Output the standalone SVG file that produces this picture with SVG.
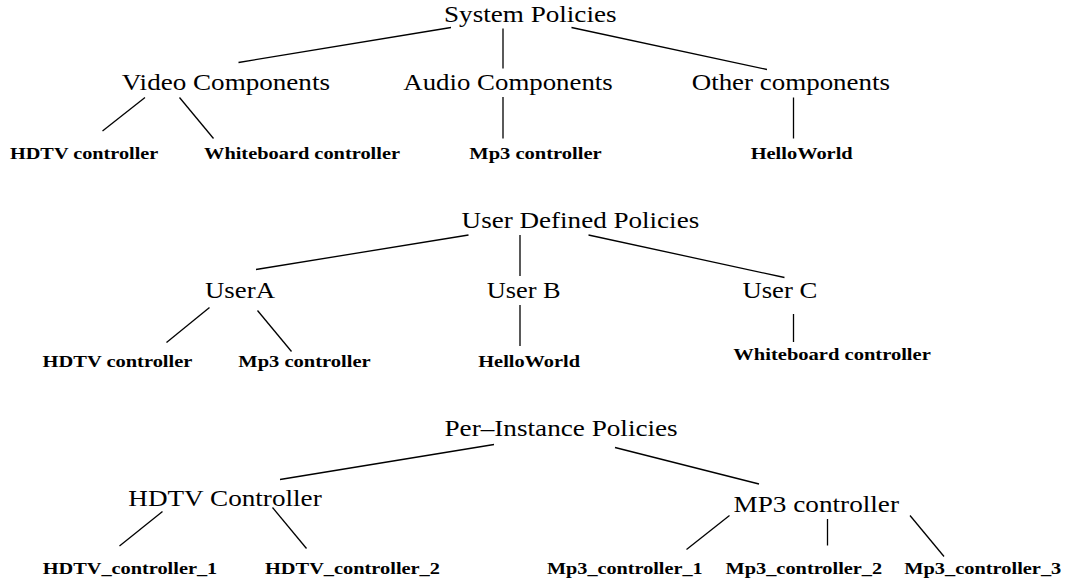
<svg xmlns="http://www.w3.org/2000/svg" width="1068" height="584" viewBox="0 0 1068 584">
  <style>
    .head { font-family: "Liberation Serif", "Times New Roman", serif; font-size: 23px; fill: #000; }
    .leaf { font-family: "Liberation Serif", "Times New Roman", serif; font-size: 17px; font-weight: bold; fill: #000; }
    .edge { stroke: #000; stroke-width: 1.3; fill: none; stroke-linecap: butt; }
  </style>
  <rect width="1068" height="584" fill="#fff"/>

  <!-- connectors -->
  <g id="connectors" class="edge">
    <!-- system policies tree -->
    <line x1="451" y1="27.5" x2="238.5" y2="62.5"/>
    <line x1="503" y1="28.5" x2="503" y2="68.5"/>
    <line x1="571.5" y1="27.5" x2="767" y2="69.5"/>
    <line x1="145" y1="97.5" x2="102.5" y2="131"/>
    <line x1="179.5" y1="97.5" x2="213.5" y2="138.5"/>
    <line x1="503" y1="97" x2="503" y2="138.5"/>
    <line x1="793.5" y1="97.5" x2="793.5" y2="138.5"/>
    <!-- user defined policies tree -->
    <line x1="468.5" y1="235" x2="256" y2="269.5"/>
    <line x1="520" y1="235" x2="520" y2="276"/>
    <line x1="588.5" y1="235" x2="784.5" y2="277.5"/>
    <line x1="209.5" y1="307.5" x2="166.5" y2="342.5"/>
    <line x1="257.5" y1="310.5" x2="291.5" y2="351.5"/>
    <line x1="520" y1="305" x2="520" y2="346"/>
    <line x1="793.5" y1="314" x2="793.5" y2="342"/>
    <!-- per-instance policies tree -->
    <line x1="494" y1="444.5" x2="280" y2="479.5"/>
    <line x1="615" y1="447.5" x2="759" y2="484"/>
    <line x1="162.5" y1="511.5" x2="119.5" y2="546"/>
    <line x1="272.5" y1="507.5" x2="306.5" y2="548.5"/>
    <line x1="729.5" y1="515.5" x2="686.5" y2="549.5"/>
    <line x1="827.5" y1="519" x2="827.5" y2="545.5"/>
    <line x1="910" y1="515.5" x2="944" y2="556.5"/>
  </g>

  <!-- system policies -->
  <g id="system-policies"><text class="head" x="444" y="22" textLength="172.5" lengthAdjust="spacingAndGlyphs">System Policies</text></g>
  <g id="video-components"><text class="head" x="121.7" y="90" textLength="208.3" lengthAdjust="spacingAndGlyphs">Video Components</text></g>
  <g id="audio-components"><text class="head" x="403.3" y="90" textLength="209.4" lengthAdjust="spacingAndGlyphs">Audio Components</text></g>
  <g id="other-components"><text class="head" x="691.7" y="90" textLength="198.3" lengthAdjust="spacingAndGlyphs">Other components</text></g>
  <g id="sys-hdtv"><text class="leaf" x="10" y="159" textLength="148.3" lengthAdjust="spacingAndGlyphs">HDTV controller</text></g>
  <g id="sys-whiteboard"><text class="leaf" x="204" y="159" textLength="196" lengthAdjust="spacingAndGlyphs">Whiteboard controller</text></g>
  <g id="sys-mp3"><text class="leaf" x="469.3" y="159" textLength="132.4" lengthAdjust="spacingAndGlyphs">Mp3 controller</text></g>
  <g id="sys-helloworld"><text class="leaf" x="750.7" y="159" textLength="102" lengthAdjust="spacingAndGlyphs">HelloWorld</text></g>

  <!-- user defined policies -->
  <g id="user-policies"><text class="head" x="461.6" y="227.5" textLength="237.6" lengthAdjust="spacingAndGlyphs">User Defined Policies</text></g>
  <g id="user-a"><text class="head" x="205" y="298" textLength="70" lengthAdjust="spacingAndGlyphs">UserA</text></g>
  <g id="user-b"><text class="head" x="486.7" y="298" textLength="74" lengthAdjust="spacingAndGlyphs">User B</text></g>
  <g id="user-c"><text class="head" x="742.4" y="298" textLength="75" lengthAdjust="spacingAndGlyphs">User C</text></g>
  <g id="usr-hdtv"><text class="leaf" x="42.6" y="367" textLength="149.8" lengthAdjust="spacingAndGlyphs">HDTV controller</text></g>
  <g id="usr-mp3"><text class="leaf" x="238.3" y="367" textLength="132.4" lengthAdjust="spacingAndGlyphs">Mp3 controller</text></g>
  <g id="usr-helloworld"><text class="leaf" x="478.3" y="367" textLength="101.7" lengthAdjust="spacingAndGlyphs">HelloWorld</text></g>
  <g id="usr-whiteboard"><text class="leaf" x="733.3" y="360" textLength="197.5" lengthAdjust="spacingAndGlyphs">Whiteboard controller</text></g>

  <!-- per-instance policies -->
  <g id="instance-policies"><text class="head" x="444.5" y="436" textLength="233.2" lengthAdjust="spacingAndGlyphs">Per–Instance Policies</text></g>
  <g id="hdtv-controller"><text class="head" x="128.3" y="506" textLength="193.4" lengthAdjust="spacingAndGlyphs">HDTV Controller</text></g>
  <g id="mp3-controller"><text class="head" x="733.5" y="511.5" textLength="165.5" lengthAdjust="spacingAndGlyphs">MP3 controller</text></g>
  <g id="hdtv-1"><text class="leaf" x="42.7" y="574" textLength="174.6" lengthAdjust="spacingAndGlyphs">HDTV_controller_1</text></g>
  <g id="hdtv-2"><text class="leaf" x="265" y="574" textLength="175" lengthAdjust="spacingAndGlyphs">HDTV_controller_2</text></g>
  <g id="mp3-1"><text class="leaf" x="547" y="574" textLength="155.6" lengthAdjust="spacingAndGlyphs">Mp3_controller_1</text></g>
  <g id="mp3-2"><text class="leaf" x="725.5" y="574" textLength="156.7" lengthAdjust="spacingAndGlyphs">Mp3_controller_2</text></g>
  <g id="mp3-3"><text class="leaf" x="904.3" y="574" textLength="157" lengthAdjust="spacingAndGlyphs">Mp3_controller_3</text></g>
</svg>
